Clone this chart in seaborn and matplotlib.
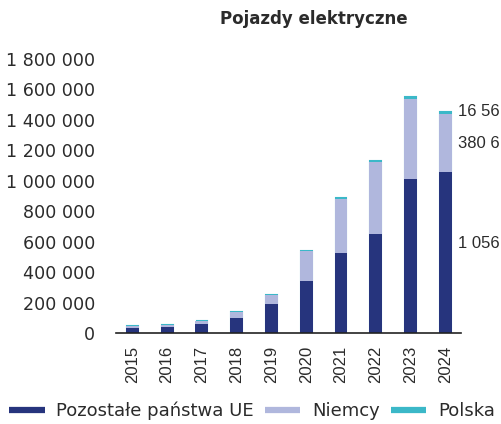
import matplotlib
matplotlib.use("Agg")
import matplotlib.pyplot as plt
import numpy as np
import pandas as pd
import seaborn as sns
from matplotlib.lines import Line2D

years = ["2015", "2016", "2017", "2018", "2019", "2020", "2021", "2022", "2023", "2024"]
pozostale = [36000, 42000, 56000, 100000, 188000, 342000, 524000, 652000, 1010000, 1056400]
niemcy = [12363, 11410, 25056, 36062, 63281, 194163, 355961, 470559, 524219, 380609]
polska = [300, 250, 600, 700, 1400, 3000, 5200, 8800, 18977, 16565]

c_dark = "#26347d"
c_light = "#b0b7dd"
c_teal = "#3bb8c8"
txt = "#2b2b2b"

df = pd.DataFrame({"rok": years, "pozostale": pozostale, "niemcy": niemcy, "polska": polska})
df["mid"] = df["pozostale"] + df["niemcy"]
df["total"] = df["mid"] + df["polska"]

sns.set_style("white")
plt.rcParams["font.family"] = ["DejaVu Sans"]

fig = plt.figure(figsize=(5.02, 4.24), dpi=100)
ax = fig.add_axes([116 / 502, 1 - 333 / 424, 345 / 502, (333 - 59) / 424])

# stacked bars: cumulative totals first, lower parts drawn over them
# (teal gets an edge so the tiny Polish values stay visible, narrower so it hides behind)
sns.barplot(data=df, x="rok", y="total", color=c_teal, width=0.31, saturation=1,
            edgecolor=c_teal, linewidth=1.5, ax=ax)
sns.barplot(data=df, x="rok", y="mid", color=c_light, width=0.37, saturation=1,
            linewidth=0, ax=ax)
sns.barplot(data=df, x="rok", y="pozostale", color=c_dark, width=0.37, saturation=1,
            linewidth=0, ax=ax)

ax.set_xlim(-0.47, 9.45)
ax.set_ylim(0, 1800000)
ticks = np.arange(0, 1800001, 200000)
ax.set_yticks(ticks)
ax.set_yticklabels([f"{v:,}".replace(",", " ") for v in ticks])
ax.set_xlabel("")
ax.set_ylabel("")
ax.tick_params(axis="y", length=0, pad=15, labelsize=12.6, labelcolor=txt)
ax.tick_params(axis="x", length=0, pad=9, labelsize=12, labelcolor=txt, rotation=90)
for lab in ax.get_xticklabels():
    lab.set_fontfamily("Liberation Sans")
for s in ["top", "right", "left"]:
    ax.spines[s].set_visible(False)
ax.spines["bottom"].set_color("#222222")
ax.spines["bottom"].set_linewidth(1.2)

# data labels for 2024, cut at the chart edge as in the source
last = df.iloc[-1]
lab_x = 9.36
fmt = lambda v: f"{int(v):,}".replace(",", " ")[:5]
ax.text(lab_x, last["total"], fmt(last["polska"]), fontsize=12, color=txt,
        va="center", ha="left", family="Liberation Sans")
ax.text(lab_x, last["pozostale"] + last["niemcy"] / 2, fmt(last["niemcy"]), fontsize=12,
        color=txt, va="center", ha="left", family="Liberation Sans")
ax.text(lab_x, last["pozostale"] * 0.555, fmt(last["pozostale"]), fontsize=12, color=txt,
        va="center", ha="left", family="Liberation Sans")

fig.text(314 / 502, 1 - 19.5 / 424, "Pojazdy elektryczne", ha="center", va="center",
         fontsize=12, fontweight="bold", color=txt)

handles = [Line2D([], [], color=c, lw=4.5, solid_capstyle="butt")
           for c in [c_dark, c_light, c_teal]]
fig.legend(handles, ["Pozostałe państwa UE", "Niemcy", "Polska"], loc="center",
           bbox_to_anchor=(252 / 502, 1 - 411 / 424), ncol=3, frameon=False,
           fontsize=13, handlelength=1.97, handletextpad=0.65, columnspacing=0.6,
           labelcolor=txt, borderaxespad=0, borderpad=0)

fig.savefig("out.png", dpi=100)
